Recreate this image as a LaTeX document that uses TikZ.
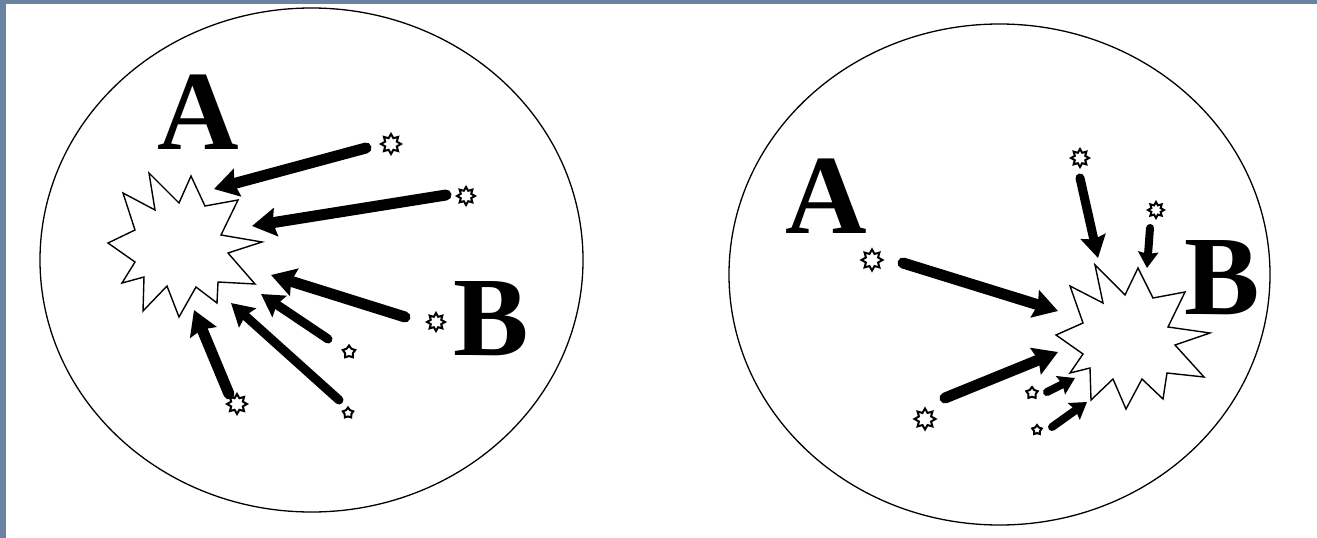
\documentclass[tikz,border=0pt]{standalone}
\usepackage{fontspec}
\setmainfont{Liberation Serif}
\usetikzlibrary{shapes.geometric,arrows.meta}
\definecolor{frameblue}{RGB}{108,130,162}
\tikzset{
  lbl/.style={font=\fontsize{113}{113}\selectfont\bfseries, anchor=base, inner sep=0pt},
  ring/.style={draw=black, line width=1.3pt},
  burst/.style={draw=black, line width=1.4pt, fill=white, line join=miter},
  tiny/.style={star, star points=8, star point ratio=1.6, draw=black, line width=2pt, fill=white, inner sep=0pt, minimum size=#1},
  bigarrow/.style={line width=11pt, line cap=round, -{Stealth[length=24pt,width=28pt,inset=3pt]}},
  midarrow/.style={line width=9pt, line cap=round, -{Stealth[length=22pt,width=25pt,inset=3pt]}},
  smallarrow/.style={line width=8pt, line cap=round, -{Stealth[length=16pt,width=20pt,inset=2pt]}}
}
\begin{document}
\begin{tikzpicture}[x=1pt,y=-1pt]
\useasboundingbox (0,0) rectangle (1317,538);
\fill[white] (0,0) rectangle (1317,538);
\fill[frameblue] (0,0) rectangle (1317,4);
\fill[frameblue] (0,0) rectangle (6,538);

% ---------- left panel ----------
\draw[ring] (311.5,260) ellipse [x radius=271.5, y radius=252];
\draw[burst] (108,243) -- (135,230) -- (123,193) -- (155,210) -- (149,173) -- (179,203) -- (191,176) -- (205,206) -- (238,200) -- (221,235) -- (262,242) -- (228,253) -- (255,284) -- (218,282) -- (217,303) -- (196,287) -- (179,317) -- (167,286) -- (143,311) -- (144,277) -- (122,283) -- (135,262) -- cycle;
\node[lbl] (LA) at (198,149) {A};
\node[lbl] (LB) at (491,355) {B};

\node[tiny=20pt] (ls1) at (391,144) {};
\node[tiny=18pt] (ls2) at (466,196) {};
\node[tiny=18pt] (ls3) at (436,322) {};
\node[tiny=13pt, star points=5] (ls4) at (349,352) {};
\node[tiny=11pt, star points=5] (ls5) at (348,413) {};
\node[tiny=20pt] (ls6) at (237,404) {};

\coordinate (lt1) at (366,148); \coordinate (lh1) at (214,189);
\coordinate (lt2) at (446,195); \coordinate (lh2) at (252,226);
\coordinate (lt3) at (405,317); \coordinate (lh3) at (271,275);
\coordinate (lt4) at (328,339); \coordinate (lh4) at (261,294);
\coordinate (lt5) at (339,400); \coordinate (lh5) at (231,303);
\coordinate (lt6) at (229,394); \coordinate (lh6) at (194,310);

\draw[bigarrow] (lt1) -- (lh1);
\draw[bigarrow] (lt2) -- (lh2);
\draw[bigarrow] (lt3) -- (lh3);
\draw[midarrow] (lt4) -- (lh4);
\draw[midarrow] (lt5) -- (lh5);
\draw[bigarrow] (lt6) -- (lh6);

% ---------- right panel ----------
\draw[ring] (999.5,274.5) ellipse [x radius=270.5, y radius=250.5];
\draw[burst] (1095,265) -- (1103,303) -- (1070,286) -- (1083,323) -- (1056,335) -- (1083,354) -- (1070,373) -- (1090,368) -- (1091,400) -- (1113,379) -- (1126,409) -- (1142,379) -- (1163,399) -- (1167,373) -- (1204,377) -- (1175,345) -- (1210,333) -- (1168,327) -- (1185,292) -- (1153,298) -- (1138,268) -- (1125,295) -- cycle;
\node[lbl] (RA) at (826,233) {A};
\node[lbl] (RB) at (1222,314) {B};

\node[tiny=21pt] (rs1) at (872,260) {};
\node[tiny=18pt] (rs2) at (1080,158) {};
\node[tiny=16pt] (rs3) at (1156,210) {};
\node[tiny=21pt] (rs4) at (925,419) {};
\node[tiny=12pt, star points=5] (rs5) at (1032,393) {};
\node[tiny=10pt, star points=5] (rs6) at (1037,430) {};

\coordinate (rt1) at (903,263);  \coordinate (rh1) at (1058,311);
\coordinate (rt2) at (945,398);  \coordinate (rh2) at (1058,352);
\coordinate (rt3) at (1080,178); \coordinate (rh3) at (1098,258);
\coordinate (rt4) at (1150,228); \coordinate (rh4) at (1147,268);
\coordinate (rt5) at (1047,392); \coordinate (rh5) at (1075,378);
\coordinate (rt6) at (1052,427); \coordinate (rh6) at (1087,402);

\draw[bigarrow] (rt1) -- (rh1);
\draw[bigarrow] (rt2) -- (rh2);
\draw[midarrow] (rt3) -- (rh3);
\draw[smallarrow] (rt4) -- (rh4);
\draw[smallarrow] (rt5) -- (rh5);
\draw[smallarrow] (rt6) -- (rh6);
\end{tikzpicture}
\end{document}
